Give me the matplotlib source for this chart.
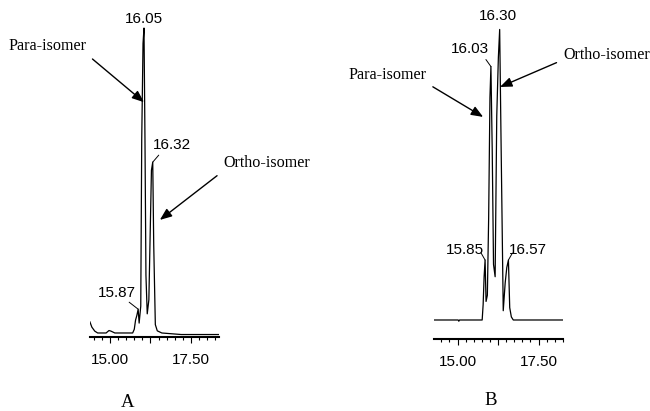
import numpy as np
import matplotlib.pyplot as plt
from matplotlib.ticker import FixedLocator, MultipleLocator

W, H = 650, 411

# chromatogram A: retention time (min) and detector signal (a.u.)
rt_a = [14.38, 14.44, 14.53, 14.62, 14.88, 14.97, 15.03, 15.15, 15.70, 15.75,
        15.79, 15.83, 15.87, 15.90, 15.95, 15.98, 16.02, 16.05, 16.08, 16.11,
        16.15, 16.20, 16.24, 16.28, 16.32, 16.35, 16.40, 16.46, 16.60, 17.20, 18.35]
sig_a = [4.9, 3.2, 1.9, 1.3, 1.3, 2.1, 1.9, 1.3, 1.3, 2.5,
         5.5, 7.0, 9.0, 4.5, 10.0, 64.0, 95.0, 100.0, 64.0, 20.0,
         7.5, 12.0, 33.0, 54.0, 56.6, 30.0, 4.0, 2.0, 1.3, 0.8, 0.8]

# chromatogram B
rt_b = [14.28, 15.02, 15.04, 15.06, 15.76, 15.79, 15.82, 15.85, 15.88, 15.92,
        15.96, 16.00, 16.03, 16.07, 16.11, 16.16, 16.21, 16.26, 16.30, 16.34,
        16.41, 16.47, 16.52, 16.57, 16.61, 16.66, 16.72, 18.26]
sig_b = [0.0, 0.0, -0.4, 0.0, 0.0, 5.0, 14.0, 19.4, 6.0, 8.0,
         33.0, 72.0, 82.0, 55.0, 18.0, 14.0, 66.0, 85.0, 94.0, 60.0,
         3.0, 12.0, 17.0, 19.4, 4.0, 1.0, 0.0, 0.0]

peaks_a = [15.87, 16.05, 16.32]
peaks_b = [15.85, 16.03, 16.30, 16.57]

sans = 'Liberation Sans'
serif = 'Liberation Serif'


def setup_axis(ax, xlim, ylim):
    ax.set_xlim(*xlim)
    ax.set_ylim(*ylim)
    for s in ['top', 'left', 'right']:
        ax.spines[s].set_visible(False)
    ax.spines['bottom'].set_linewidth(1.5)
    ax.set_yticks([])
    ax.xaxis.set_major_locator(FixedLocator([15.0, 16.25, 17.5]))
    ax.xaxis.set_minor_locator(MultipleLocator(0.25))
    ax.set_xticklabels(['15.00', '', '17.50'], fontfamily=sans, fontsize=11)
    ax.tick_params(axis='x', which='major', length=4.5, width=0.8, pad=7)
    ax.tick_params(axis='x', which='minor', length=2.5, width=0.8)


def label_peaks(ax, rt, sig, peaks, offsets, leaders):
    # offsets: text centre, leaders: start of the short leader line (pixels)
    for p, (dx, dy), ld in zip(peaks, offsets, leaders):
        h = np.interp(p, rt, sig)
        ax.annotate('%.2f' % p, xy=(p, h), xytext=(dx, dy),
                    textcoords='offset pixels', ha='center', va='center',
                    fontfamily=sans, fontsize=11)
        if ld is not None:
            ax.annotate('', xy=(p, h), xytext=ld, textcoords='offset pixels',
                        arrowprops=dict(arrowstyle='-', lw=0.7, color='k',
                                        shrinkA=0, shrinkB=0))


def isomer_arrow(ax, text, xy, pos, rel):
    ax.annotate(text, xy=xy, xytext=(pos[0], H - pos[1]),
                textcoords='figure pixels', ha='center', va='center',
                fontfamily=serif, fontsize=11.6,
                arrowprops=dict(arrowstyle='-|>,head_length=0.55,head_width=0.22',
                                mutation_scale=13, lw=1.0, color='k',
                                relpos=rel, shrinkA=3, shrinkB=0))


fig = plt.figure(figsize=(W / 100, H / 100), dpi=100)

ax_a = fig.add_axes([89.9 / W, (H - 337) / H, 128.6 / W, 325 / H])
ax_b = fig.add_axes([434.2 / W, (H - 339) / H, 129.0 / W, 325 / H])
for ax in (ax_a, ax_b):
    ax.patch.set_alpha(0)

ax_a.plot(rt_a, sig_a, color='k', lw=0.9)
setup_axis(ax_a, (14.38, 18.35), (0, 105.2))
label_peaks(ax_a, rt_a, sig_a, peaks_a,
            [(-21, 16), (0, 9), (19, 17)],
            [(-9, 7), None, (6, 7)])
isomer_arrow(ax_a, 'Para-isomer', (16.05, 76), (47.5, 46), (1, 0))
isomer_arrow(ax_a, 'Ortho-isomer', (16.54, 37.9), (266.5, 163), (0, 0))

ax_b.plot(rt_b, sig_b, color='k', lw=0.9)
setup_axis(ax_b, (14.28, 18.26), (-6.15, 99.0))
label_peaks(ax_b, rt_b, sig_b, peaks_b,
            [(-20, 10), (-21, 18), (-2, 13), (19, 10)],
            [(-4, 7), (-5, 7), None, (4, 7)])
isomer_arrow(ax_b, 'Para-isomer', (15.79, 65.7), (387.5, 75), (1, 0))
isomer_arrow(ax_b, 'Ortho-isomer', (16.31, 75.4), (606.5, 55), (0, 0.2))

fig.text(128 / W, (H - 402) / H, 'A', ha='center', va='center',
         fontfamily=serif, fontsize=13.5)
fig.text(491 / W, (H - 400) / H, 'B', ha='center', va='center',
         fontfamily=serif, fontsize=13.5)

fig.savefig('out.png', dpi=100)
